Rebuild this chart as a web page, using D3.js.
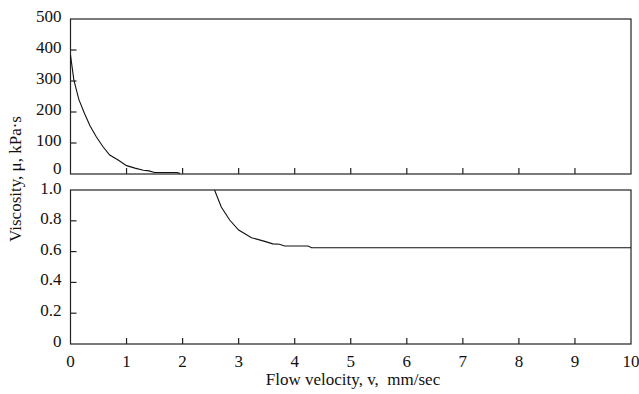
<!DOCTYPE html>
<html>
<head>
<meta charset="utf-8">
<script src="https://cdn.jsdelivr.net/npm/d3@7"></script>
<style>
  body { margin: 0; background: #fff; }
  text { font-family: "Liberation Serif", "DejaVu Serif", serif; fill: #111; }
</style>
</head>
<body>
<svg id="chart"></svg>
<script>
// upper panel: high viscosity region, kPa·s
var topVel  = [0, 0.06, 0.15, 0.25, 0.35, 0.46, 0.58, 0.7, 0.85, 1.0, 1.15, 1.3, 1.4, 1.5, 1.7, 1.9, 1.95];
var topVisc = [384, 303, 240, 195, 155, 120, 88, 61, 45, 27, 19, 12, 10, 5, 5, 5, 2];

// lower panel: low viscosity region, kPa·s
var lowVel  = [2.57, 2.69, 2.84, 3.0, 3.23, 3.45, 3.61, 3.73, 3.82, 4.0, 4.24, 4.3, 5, 6, 7, 8, 9, 10];
var lowVisc = [1.0, 0.89, 0.805, 0.74, 0.69, 0.668, 0.65, 0.648, 0.636, 0.636, 0.636, 0.625, 0.625, 0.625, 0.625, 0.625, 0.625, 0.625];

var xTicks     = [0, 1, 2, 3, 4, 5, 6, 7, 8, 9, 10];
var topTicks   = [0, 100, 200, 300, 400, 500];
var lowTicks   = [0, 0.2, 0.4, 0.6, 0.8, 1.0];

var W = 639, H = 394;
var left = 70.5, right = 631;

var svg = d3.select("#chart").attr("width", W).attr("height", H);

var x = d3.scaleLinear().domain([0, 10]).range([left, right]);
var yTop = d3.scaleLinear().domain([0, 500]).range([174, 19]);
var yLow = d3.scaleLinear().domain([0, 1]).range([344, 190]);

// shift: function giving a small vertical nudge per label so the two
// panels' end labels ("0" above, "1.0" below) don't collide
function panel(y, ticks, fmt, xs, ys, shift) {
  var g = svg.append("g");
  var y0 = y.range()[0], y1 = y.range()[1];

  // frame
  g.append("rect")
    .attr("x", left).attr("y", y1)
    .attr("width", right - left).attr("height", y0 - y1)
    .attr("fill", "none").attr("stroke", "#222").attr("stroke-width", 1.2);

  // inward x ticks
  g.selectAll(".xt").data(xTicks.slice(1, -1)).enter().append("line")
    .attr("x1", function(d) { return x(d); }).attr("x2", function(d) { return x(d); })
    .attr("y1", y0).attr("y2", y0 - 6)
    .attr("stroke", "#222").attr("stroke-width", 1.2);

  // inward y ticks
  g.selectAll(".yt").data(ticks.slice(1, -1)).enter().append("line")
    .attr("x1", left).attr("x2", left + 6)
    .attr("y1", function(d) { return y(d); }).attr("y2", function(d) { return y(d); })
    .attr("stroke", "#222").attr("stroke-width", 1.2);

  g.selectAll(".yl").data(ticks).enter().append("text")
    .attr("x", left - 9)
    .attr("y", function(d) { return y(d) + 3 + shift(d); })
    .attr("text-anchor", "end")
    .style("font-size", "17px")
    .text(fmt);

  var line = d3.line()
    .x(function(d, i) { return x(xs[i]); })
    .y(function(d) { return y(d); });

  g.append("path")
    .datum(ys)
    .attr("d", line)
    .attr("fill", "none")
    .attr("stroke", "#111")
    .attr("stroke-width", 1.1);
}

panel(yTop, topTicks, function(d) { return d; }, topVel, topVisc,
      function(d) { return d === 0 ? -3 : 0; });
panel(yLow, lowTicks, function(d) { return d === 0 ? "0" : d3.format(".1f")(d); }, lowVel, lowVisc,
      function(d) { return d === 1 ? 1 : 0; });

// x tick labels
svg.selectAll(".xl").data(xTicks).enter().append("text")
  .attr("x", function(d) { return x(d); })
  .attr("y", 367)
  .attr("text-anchor", "middle")
  .style("font-size", "17px")
  .text(function(d) { return d; });

svg.append("text")      // x axis title
  .attr("x", 353)
  .attr("y", 385)
  .attr("text-anchor", "middle")
  .style("font-size", "17px")
  .attr("xml:space", "preserve")
  .text("Flow velocity, v,  mm/sec");

svg.append("text")      // y axis title
  .attr("transform", "translate(21,179) rotate(-90)")
  .attr("text-anchor", "middle")
  .style("font-size", "17px")
  .text("Viscosity, \u03bc, kPa\u00b7s");
</script>
</body>
</html>
